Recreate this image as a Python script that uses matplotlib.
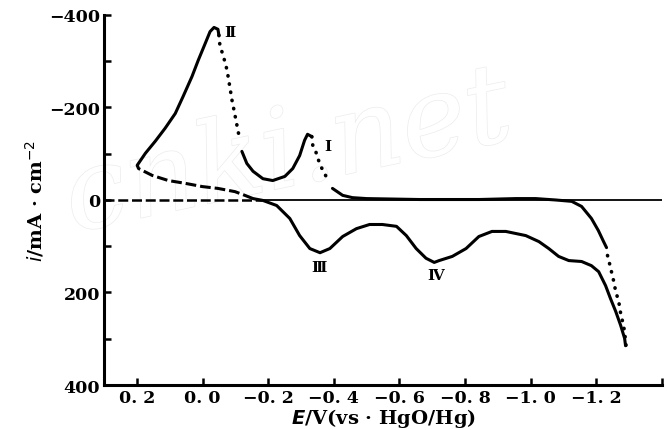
import numpy as np
import matplotlib.pyplot as plt
from matplotlib import patheffects as pe

# anodic sweep: E [V vs HgO/Hg], i [mA/cm2] (negative = up)
E_a1 = [0.199, 0.174, 0.144, 0.114, 0.083, 0.059, 0.032, 0.013, -0.008, -0.023, -0.035, -0.047, -0.050]
i_a1 = [-75, -101, -127, -155, -187, -224, -267, -302, -338, -364, -373, -369, -356]
E_a2 = [-0.050, -0.053, -0.063, -0.072, -0.078, -0.084, -0.090, -0.096, -0.102, -0.108, -0.114]  # dotted
i_a2 = [-356, -334, -312, -289, -267, -241, -215, -194, -172, -150, -129]
E_a3 = [-0.120, -0.135, -0.154, -0.184, -0.214, -0.251, -0.275, -0.296, -0.311, -0.320, -0.333]
i_a3 = [-105, -79, -62, -46, -42, -51, -68, -96, -129, -142, -137]
E_a4 = [-0.333, -0.336, -0.345, -0.351, -0.360, -0.366, -0.375, -0.384]  # dotted
i_a4 = [-137, -118, -105, -90, -75, -64, -53, -40]
E_a5 = [-0.396, -0.427, -0.457, -0.500, -0.660, -0.843, -0.955, -1.015, -1.076, -1.125,
        -1.155, -1.185, -1.206, -1.222, -1.231]
i_a5 = [-25, -10, -5, -3, -1, -1, -3, -3, 0, 3, 14, 40, 66, 90, 103]
E_a6 = [-1.234, -1.240, -1.246, -1.253, -1.259, -1.268, -1.274, -1.280, -1.286, -1.289, -1.292]  # dotted
i_a6 = [120, 137, 155, 176, 198, 219, 245, 263, 284, 306, 323]

# cathodic sweep
E_c = [-1.289, -1.286, -1.274, -1.259, -1.243, -1.228, -1.207, -1.185, -1.155, -1.116,
       -1.085, -1.055, -1.025, -0.985, -0.924, -0.882, -0.842, -0.803, -0.761, -0.721,
       -0.706, -0.681, -0.651, -0.621, -0.591, -0.548, -0.509, -0.469, -0.427, -0.388,
       -0.358, -0.327, -0.296, -0.266, -0.226, -0.184, -0.154]
i_c = [315, 299, 271, 241, 213, 185, 155, 142, 133, 131,
       122, 105, 90, 77, 68, 68, 79, 105, 122, 131,
       135, 126, 105, 77, 57, 53, 53, 62, 79, 105,
       114, 105, 77, 40, 12, 1, -3]
E_d = [-0.154, -0.129, -0.099, -0.047, 0.001, 0.053, 0.104, 0.153, 0.195, 0.199]  # dashed
i_d = [-3, -10, -18, -25, -29, -36, -42, -53, -68, -75]

peak_lab = ['Ⅱ', 'Ⅰ', 'Ⅲ', 'Ⅳ']
peak_E = [-0.084, -0.381, -0.354, -0.709]
peak_i = [-364, -116, 144, 163]

fnt = {'family': 'DejaVu Serif', 'weight': 'bold'}

fig = plt.figure(figsize=(6.67, 4.31), dpi=100)
ax = fig.add_axes([0.156, 0.1044, 0.8365, 0.8586])

# watermark
ax.text(0.33, 0.62, 'cnki.net', transform=ax.transAxes, fontsize=80, family='DejaVu Serif',
        style='italic', color='white', rotation=12, ha='center', va='center', zorder=0,
        path_effects=[pe.withStroke(linewidth=1.0, foreground='#ececec')])

lw = 2.2
ax.plot([0.3, -0.18], [0, 0], color='k', lw=1.8, dashes=(4, 1.5))
ax.plot([-0.18, -1.4], [0, 0], color='k', lw=1.3)
for E, i in [(E_a1, i_a1), (E_a3, i_a3), (E_a5, i_a5), (E_c, i_c)]:
    ax.plot(E, i, color='k', lw=lw, solid_capstyle='round', solid_joinstyle='round')
for E, i in [(E_a2, i_a2), (E_a4, i_a4), (E_a6, i_a6)]:
    ax.plot(E, i, color='k', lw=2.6, dashes=(0.1, 2.2), dash_capstyle='round')
ax.plot(E_d, i_d, color='k', lw=lw, dashes=(3.5, 1.3), dash_joinstyle='round')

for s, x, y in zip(peak_lab, peak_E, peak_i):
    ax.text(x, y, s, fontsize=11, ha='center', va='center', **fnt)

ax.set_xlim(0.3, -1.4)
ax.set_ylim(400, -400)
ax.set_xticks(np.arange(0.2, -1.41, -0.2))
ax.set_xticklabels(['0. 2', '0. 0', '−0. 2', '−0. 4', '−0. 6', '−0. 8', '−1. 0', '−1. 2', ''], **fnt)
ax.set_yticks([-400, -200, 0, 200, 400])
ax.set_yticklabels(['−400', '−200', '0', '200', '400'], **fnt)
ax.set_yticks([-300, -100, 100, 300], minor=True)
ax.tick_params(direction='in', length=5, width=1.8, labelsize=12.5, pad=3)
ax.tick_params(which='minor', direction='in', length=5, width=1.8)
for s in ['top', 'right']:
    ax.spines[s].set_visible(False)
for s in ['left', 'bottom']:
    ax.spines[s].set_linewidth(2.2)

ax.set_xlabel(r'$\boldsymbol{E}$/V(vs · HgO/Hg)', fontsize=14, labelpad=0, **fnt)
ax.set_ylabel('$i$/mA · cm$^{-2}$', fontsize=14, labelpad=2, **fnt)

fig.savefig('out.png', dpi=100)
